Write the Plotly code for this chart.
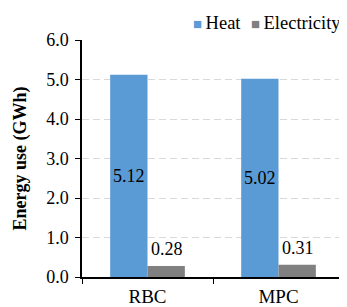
import plotly.graph_objects as go

categories = ["RBC", "MPC"]
heat = [5.12, 5.02]
electricity = [0.28, 0.31]
series_names = ["Heat", "Electricity"]
colors = ["#5B9BD5", "#808080"]

FONT = "Liberation Serif, Times New Roman, serif"

fig = go.Figure()
fig.add_trace(go.Bar(
    x=categories, y=heat, name=series_names[0], marker_color=colors[0],
    marker_line_width=0,
    text=[f"{v:.2f}" for v in heat], textposition="inside", textangle=0,
    constraintext="none",
    insidetextanchor="middle", textfont=dict(family=FONT, size=18, color="black"),
    cliponaxis=False, showlegend=False,
))
fig.add_trace(go.Bar(
    x=categories, y=electricity, name=series_names[1], marker_color=colors[1],
    marker_line_width=0,
    cliponaxis=False, showlegend=False,
))

# value labels above the electricity bars (a bit higher than Plotly's default)
for cat, v in zip(categories, electricity):
    fig.add_annotation(
        x=cat, y=v, xref="x", yref="y", xshift=19, yshift=5,
        yanchor="bottom", xanchor="center", showarrow=False,
        text=f"{v:.2f}", font=dict(family=FONT, size=18, color="black"),
    )

# legend drawn as annotations (compact Excel-like legend)
legend_x = [0.415, 0.638]
for name, col, lx in zip(series_names, colors, legend_x):
    fig.add_annotation(
        xref="paper", yref="paper", x=lx, y=1.072, xanchor="left", yanchor="middle",
        text=f"<span style='color:{col};font-size:15px'>■</span><span style='font-size:14px'> </span>{name}",
        showarrow=False, font=dict(family=FONT, size=18.5, color="black"),
    )

# the page body adds an 8px margin, so the figure is 8px smaller and margins shifted
fig.update_layout(
    width=339, height=299,
    margin=dict(l=74, r=3, t=32, b=30, autoexpand=False),
    barmode="group", bargap=0.43, bargroupgap=0,
    plot_bgcolor="white", paper_bgcolor="white",
    font=dict(family=FONT, size=18, color="black"),
    showlegend=False,
    uniformtext=dict(mode=False),
)
fig.update_xaxes(
    showline=True, linecolor="black", linewidth=1.5,
    ticks="outside", tickson="boundaries", ticklen=5, tickcolor="black",
    tickfont=dict(family=FONT, size=19), showgrid=False, automargin=False,
    ticklabelstandoff=1,
)
fig.update_yaxes(
    range=[0, 6], dtick=1, tickformat=".1f",
    showline=True, linecolor="black", linewidth=1.5,
    ticks="outside", ticklen=5, tickcolor="black",
    showgrid=True, gridcolor="#D9D9D9", griddash="7px,4px", gridwidth=1,
    zeroline=False, automargin=False,
    tickfont=dict(family=FONT, size=18), ticklabelstandoff=3,
    title=dict(text="<b>Energy use (GWh)</b>", font=dict(family=FONT, size=18), standoff=15),
)

fig.write_html("out.html")
